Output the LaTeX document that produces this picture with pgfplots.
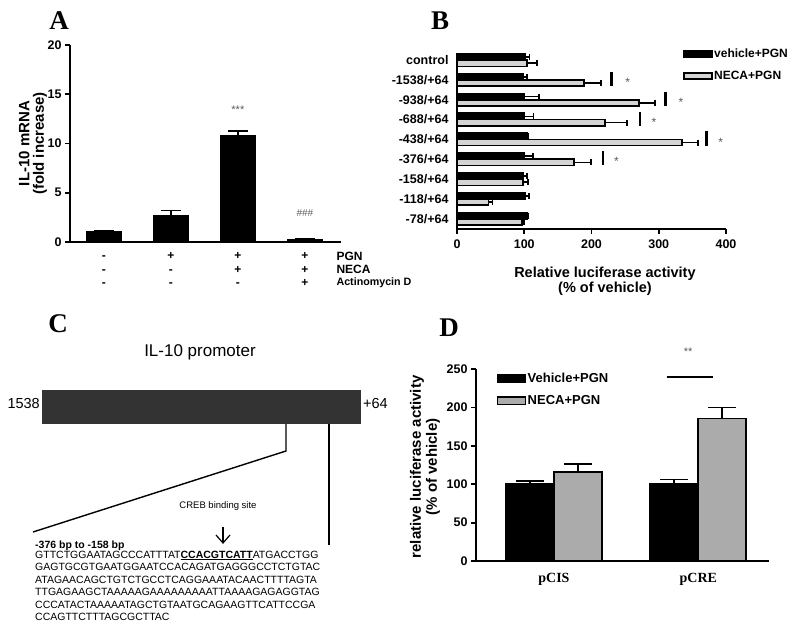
\documentclass[border=0pt]{standalone}
\usepackage{fontspec}
\setmainfont{Liberation Sans}
\newfontfamily\timesfont{Liberation Serif}
\usepackage{pgfplots}
\pgfplotsset{compat=1.18}
\definecolor{lgray}{HTML}{D4D4D4}
\definecolor{mgray}{HTML}{ABABAB}
\definecolor{dgray}{HTML}{333333}
\definecolor{sgray}{HTML}{5A5A5A}
\newcommand{\fs}[1]{\fontsize{#1}{#1}\selectfont}
\pgfplotsset{
  gp/.style={
    scale only axis, anchor=south west,
    axis x line*=bottom, axis y line*=left,
    axis line style={line width=1.8pt},
    every tick/.style={black, line width=1.8pt},
    major tick length=5pt,
    tick align=outside,
    /pgf/number format/assume math mode=true,
    clip=false,
  }
}
\begin{document}
\begin{tikzpicture}[x=1pt,y=1pt]
\path[use as bounding box] (0,0) rectangle (800,632);

% ---------------- Panel A ----------------
\begin{axis}[gp, at={(70pt,390pt)}, width=271pt, height=197pt,
  xmin=-0.507, xmax=3.54, ymin=0, ymax=20,
  ytick={0,5,10,15,20},
  xtick={0,1,2,3}, xtick style={draw=none},
  xticklabels={{\strut-\\\strut-\\\strut-},{\strut+\\\strut-\\\strut-},{\strut+\\\strut+\\\strut-},{\strut+\\\strut+\\\strut+}},
  xticklabel style={align=center, font=\bfseries\fontsize{12}{13.5}\selectfont},
  yticklabel style={font=\bfseries\fs{12.5}},
  ylabel={IL-10 mRNA\\(fold increase)},
  ylabel style={align=center, font=\bfseries\fontsize{15}{14.5}\selectfont, at={(axis description cs:-0.137,0.5)}, anchor=center},
  ybar, bar width=35pt,
  error bars/y dir=plus, error bars/y explicit,
  error bars/error bar style={line width=1.8pt},
  error bars/error mark options={rotate=90, line width=1.8pt, mark size=10pt},
]
\addplot[fill=black, draw=black] coordinates {(0,1.05) +- (0,0.12) (1,2.7) +- (0,0.5) (2,10.8) +- (0,0.5) (3,0.25) +- (0,0.05)};
\node[font=\fs{11}, text=sgray, yshift=-2pt] at (axis cs:2,13.6) {***};
\node[font=\fs{10}, text=sgray] at (axis cs:3,2.94) {\#\#\#};
\end{axis}
\node[anchor=west, font=\bfseries\fs{12}] at (333,376) {PGN};
\node[anchor=west, font=\bfseries\fs{12}] at (333,363) {NECA};
\node[anchor=west, font=\bfseries\fs{10.7}] at (333,349) {Actinomycin D};
\node[font=\timesfont\bfseries\fs{27}] at (59,611.5) {A};

% ---------------- Panel B ----------------
\begin{axis}[gp, at={(457pt,403.3pt)}, width=269pt, height=175.4pt,
  xmin=0, xmax=400, ymin=-0.504, ymax=8.34,
  xtick={0,100,200,300,400},
  ytick={0,1,2,3,4,5,6,7,8},
  yticklabels={-78/+64,-118/+64,-158/+64,-376/+64,-438/+64,-688/+64,-938/+64,-1538/+64,control},
  ytick style={draw=none},
  yticklabel style={font=\bfseries\fs{12.5}},
  xticklabel style={font=\bfseries\fs{12.5}, yshift=-3pt},
  xlabel={Relative luciferase activity\\(\% of vehicle)},
  xlabel style={align=center, font=\bfseries\fontsize{14.5}{15}\selectfont, at={(axis description cs:0.55,-0.2)}, anchor=north},
  xbar, bar width=6.3pt,
  error bars/x dir=plus, error bars/x explicit,
  error bars/error bar style={line width=1.6pt},
  error bars/error mark options={rotate=90, line width=1.6pt, mark size=3pt},
  legend image code/.code={\draw[#1, line width=1.5pt] (0pt,-3.2pt) rectangle (28pt,3.2pt);},
  legend style={at={(axis description cs:0.84,1.035)}, anchor=north west, draw=none, fill=none,
    font=\bfseries\fs{12}, row sep=9pt, inner sep=0pt, nodes={inner sep=1.5pt},
    /tikz/every even column/.append style={column sep=1pt}},
  legend cell align=left,
]
\addplot[fill=black, draw=black, line width=1.6pt, bar shift=3.15pt] coordinates {
 (101,8) +- (7,0) (99,7) +- (5,0) (100,6) +- (22,0) (100,5) +- (14,0) (104,4) +- (2,0)
 (100,3) +- (13,0) (99,2) +- (5,0) (101,1) +- (6,0) (104,0) +- (2,0)};
\addplot[fill=lgray, draw=black, line width=1.6pt, bar shift=-3.15pt] coordinates {
 (104,8) +- (15,0) (189,7) +- (25,0) (271,6) +- (23,0) (220,5) +- (33,0) (335,4) +- (23,0)
 (174,3) +- (25,0) (98,2) +- (8,0) (47,1) +- (6,0) (97,0) +- (3,0)};
\legend{vehicle+PGN, NECA+PGN}
\draw[line width=2.6pt] (axis cs:230,7.4) -- (axis cs:230,6.69);
\draw[line width=2.6pt] (axis cs:310,6.4) -- (axis cs:310,5.69);
\draw[line width=2.6pt] (axis cs:272,5.4) -- (axis cs:272,4.69);
\draw[line width=2.6pt] (axis cs:371,4.4) -- (axis cs:371,3.69);
\draw[line width=2.6pt] (axis cs:217,3.4) -- (axis cs:217,2.69);
\node[font=\fs{12}, text=sgray, yshift=-2.5pt] at (axis cs:254,7) {*};
\node[font=\fs{12}, text=sgray, yshift=-2.5pt] at (axis cs:333,6) {*};
\node[font=\fs{12}, text=sgray, yshift=-2.5pt] at (axis cs:293,5) {*};
\node[font=\fs{12}, text=sgray, yshift=-2.5pt] at (axis cs:392,4) {*};
\node[font=\fs{12}, text=sgray, yshift=-2.5pt] at (axis cs:237,3) {*};
\end{axis}
\node[font=\timesfont\bfseries\fs{27}] at (440,611.5) {B};

% ---------------- Panel C ----------------
\node[font=\timesfont\bfseries\fs{27}] at (58,308) {C};
\node[font=\fs{17}] at (200,280) {IL-10 promoter};
\fill[dgray] (42,208) rectangle (361,242);
\node[anchor=east, font=\fs{14.5}, inner sep=1pt] at (41,228) {1538};
\node[anchor=west, font=\fs{14.5}, inner sep=1pt] at (362,228) {+64};
\draw[line width=1.4pt] (286,208) -- (286,181) -- (33,100);
\draw[line width=1.4pt] (329,208) -- (329,87);
\node[font=\fs{9.5}] at (218,126) {CREB binding site};
\draw[line width=1.2pt] (223,105) -- (223,89);
\draw[line width=1.2pt] (216,97) -- (223,89) -- (230,97);
\node[anchor=west, font=\bfseries\fs{10.5}, inner sep=0pt] at (35,86.3) {-376 bp to -158 bp};
\node[anchor=north west, align=left, font=\fontsize{10.5}{12.55}\selectfont, inner sep=0pt] at (35,81.5) {%
GTTCTGGAATAGCCCATTTAT\underline{\textbf{CCACGTCATT}}ATGACCTGG\\
GAGTGCGTGAATGGAATCCACAGATGAGGGCCTCTGTAC\\
ATAGAACAGCTGTCTGCCTCAGGAAATACAACTTTTAGTA\\
TTGAGAAGCTAAAAAGAAAAAAAAATTAAAAGAGAGGTAG\\
CCCATACTAAAAATAGCTGTAATGCAGAAGTTCATTCCGA\\
CCAGTTCTTTAGCGCTTAC};

% ---------------- Panel D ----------------
\begin{axis}[gp, at={(476pt,71pt)}, width=293pt, height=192pt,
  xmin=-0.54, xmax=1.49, ymin=0, ymax=250,
  ytick={0,50,100,150,200,250},
  xtick={0,1}, xticklabels={pCIS,pCRE}, xtick style={draw=none},
  xticklabel style={font=\timesfont\bfseries\fs{14}, yshift=-4pt},
  yticklabel style={font=\bfseries\fs{12.5}},
  ylabel={relative luciferase activity\\(\% of vehicle)},
  ylabel style={align=center, font=\bfseries\fontsize{15}{16}\selectfont, at={(axis description cs:-0.174,0.49)}, anchor=center},
  ybar=0pt, bar width=48pt,
  error bars/y dir=plus, error bars/y explicit,
  error bars/error bar style={line width=1.8pt},
  error bars/error mark options={rotate=90, line width=1.8pt, mark size=14pt},
  legend image code/.code={\draw[#1, line width=1.5pt] (0pt,-3.8pt) rectangle (28pt,3.8pt);},
  legend style={at={(axis description cs:0.07,0.99)}, anchor=north west, draw=none, fill=none,
    font=\bfseries\fs{13}, row sep=9pt, inner sep=0pt, nodes={inner sep=1.5pt},
    /tikz/every even column/.append style={column sep=2pt}},
  legend cell align=left,
]
\addplot[fill=black, draw=black, line width=1.8pt] coordinates {(0,101) +- (0,3.5) (1,101) +- (0,5)};
\addplot[fill=mgray, draw=black, line width=1.8pt] coordinates {(0,116) +- (0,10.5) (1,185.6) +- (0,14.4)};
\legend{Vehicle+PGN, NECA+PGN}
\draw[line width=2.2pt] (axis cs:0.78,239.6) -- (axis cs:1.10,239.6);
\node[font=\fs{11}, text=sgray, yshift=-2pt] at (axis cs:0.93,275) {**};
\end{axis}
\node[font=\timesfont\bfseries\fs{27}] at (449,304) {D};
\end{tikzpicture}
\end{document}
